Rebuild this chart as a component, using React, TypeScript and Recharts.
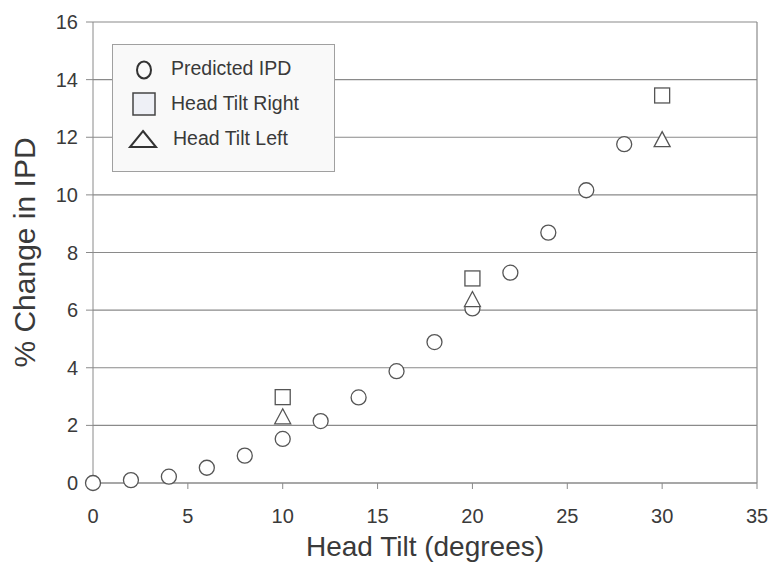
import {
  CartesianGrid,
  ReferenceLine,
  Scatter,
  ScatterChart,
  XAxis,
  YAxis,
} from 'recharts'

const tiltPredicted = [0, 2, 4, 6, 8, 10, 12, 14, 16, 18, 20, 22, 24, 26, 28]
const ipdPredicted = [0, 0.1, 0.22, 0.53, 0.95, 1.53, 2.15, 2.97, 3.88, 4.89, 6.06, 7.3, 8.69, 10.16, 11.76]
const tiltMeasured = [10, 20, 30]
const ipdRight = [2.98, 7.1, 13.45]
const ipdLeft = [2.28, 6.35, 11.9]
const xTicks = [0, 5, 10, 15, 20, 25, 30, 35]
const yTicks = [0, 2, 4, 6, 8, 10, 12, 14, 16]

const FONT = '"Liberation Sans", Arial, sans-serif'
const INK = '#3a3a3a'
const LINE = '#8a8a8a'
const MARK = '#555'

const predicted = tiltPredicted.map((x, i) => ({ x, y: ipdPredicted[i] }))
const right = tiltMeasured.map((x, i) => ({ x, y: ipdRight[i] }))
const left = tiltMeasured.map((x, i) => ({ x, y: ipdLeft[i] }))

const CircleMark = (p: any) => (
  <circle cx={p.cx} cy={p.cy} r={7.5} fill="#fff" stroke={MARK} strokeWidth={1.3} />
)
const SquareMark = (p: any) => (
  <rect x={p.cx - 7.5} y={p.cy - 7.5} width={15} height={15} fill="#fff" stroke={MARK} strokeWidth={1.3} />
)
const TriangleMark = (p: any) => (
  <polygon
    points={`${p.cx},${p.cy - 8.5} ${p.cx + 8},${p.cy + 6.5} ${p.cx - 8},${p.cy + 6.5}`}
    fill="#fff"
    stroke={MARK}
    strokeWidth={1.3}
  />
)

// x title: placed by hand under the tick labels
const XTitle = (props: any) => {
  const vb = props.viewBox
  return (
    <text x={vb.x + vb.width / 2} y={vb.y + 73} textAnchor="middle" fill={INK} fontSize={28} fontFamily={FONT}>
      Head Tilt (degrees)
    </text>
  )
}

function LegendBox() {
  const row = { position: 'absolute' as const, left: 58, fontSize: 19.5, color: INK, whiteSpace: 'nowrap' as const }
  return (
    <div
      style={{
        position: 'absolute',
        left: 112,
        top: 44,
        width: 221,
        height: 126,
        background: '#f9f9f9',
        border: '1px solid #a0a0a0',
        fontFamily: FONT,
      }}
    >
      <svg width={221} height={126} style={{ position: 'absolute', left: 0, top: 0 }}>
        <ellipse cx={31} cy={25} rx={7} ry={8.5} fill="none" stroke="#333" strokeWidth={2} />
        <rect x={20} y={48} width={22} height={22} fill="#eef0f6" stroke="#444" strokeWidth={1.5} />
        <polygon points="30,86 43,102 17,102" fill="none" stroke="#333" strokeWidth={2} />
      </svg>
      <div style={{ ...row, top: 12 }}>Predicted IPD</div>
      <div style={{ ...row, top: 47 }}>Head Tilt Right</div>
      <div style={{ ...row, top: 82, left: 60 }}>Head Tilt Left</div>
    </div>
  )
}

export default function App() {
  return (
    <div style={{ position: 'absolute', left: 0, top: 0, width: 770, height: 562, background: '#fff' }}>
      <ScatterChart
        width={770}
        height={562}
        margin={{ top: 22, right: 13, bottom: 0, left: 0 }}
        style={{ fontFamily: FONT }}
      >
        <CartesianGrid vertical={false} stroke={LINE} strokeWidth={1.2} />
        <XAxis
          type="number"
          dataKey="x"
          domain={[0, 35]}
          ticks={xTicks}
          height={79}
          stroke={LINE}
          tickSize={6}
          tickMargin={20}
          tick={{ fill: INK, fontSize: 20 }}
          label={<XTitle />}
        />
        <YAxis
          type="number"
          dataKey="y"
          domain={[0, 16]}
          ticks={yTicks}
          width={93}
          stroke={LINE}
          tickSize={7}
          tickMargin={8}
          tick={{ fill: INK, fontSize: 20 }}
          label={{
            value: '% Change in IPD',
            angle: -90,
            position: 'insideLeft',
            offset: 24,
            fill: INK,
            fontSize: 30,
            style: { textAnchor: 'middle' },
          }}
        />
        <ReferenceLine x={35} stroke={LINE} strokeWidth={1.2} />
        <Scatter data={predicted} shape={CircleMark} isAnimationActive={false} />
        <Scatter data={right} shape={SquareMark} isAnimationActive={false} />
        <Scatter data={left} shape={TriangleMark} isAnimationActive={false} />
      </ScatterChart>
      <LegendBox />
    </div>
  )
}
